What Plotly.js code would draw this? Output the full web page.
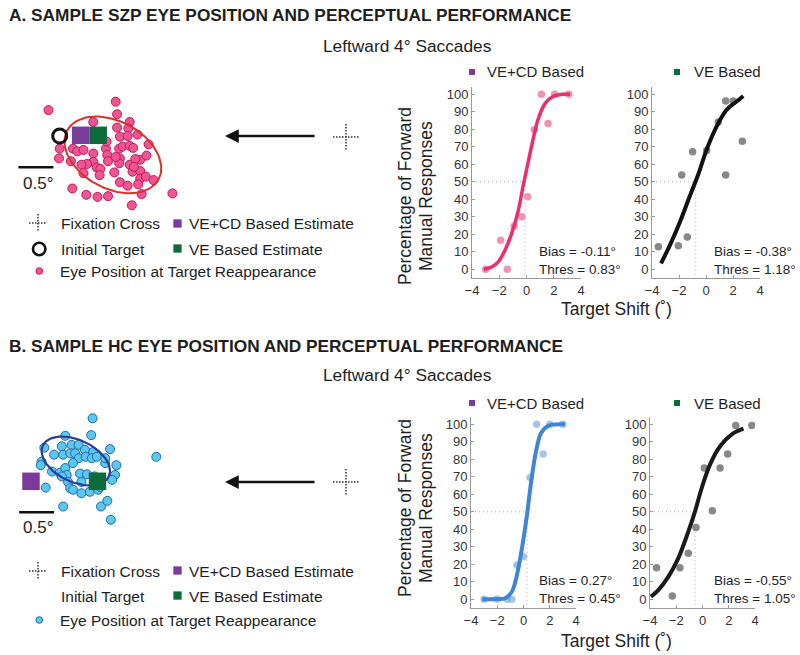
<!DOCTYPE html>
<html><head><meta charset="utf-8">
<script src="https://cdn.plot.ly/plotly-3.0.1.min.js"></script>
<style>html,body{margin:0;padding:0;background:#fff}#chart{width:800px;height:655px}</style>
</head><body><div id="chart"></div>
<script>
// ---------------- DATA ----------------
// Panel A (SZP) eye positions at target reappearance, degrees (fixation = 0,0)
const eyeA_x = [-4.25,-3.29,-3.27,-3.61,-3.09,-3.27,-3.11,-3.23,-3.12,-2.98,-4.09,-4.10,-3.93,-3.90,-3.84,-3.75,-3.61,-3.43,-3.41,-3.24,-3.19,-3.09,-3.04,-2.82,-3.23,-3.40,-3.61,-3.70,-3.78,-3.56,-3.24,-3.09,-2.94,-2.85,-3.01,-3.75,-3.51,-3.52,-3.31,-3.05,-2.94,-3.03,-2.94,-2.86,-2.75,-3.23,-3.12,-2.97,-3.91,-3.71,-3.55,-3.40,-2.92,-3.06,-2.48,-3.42,-3.29];
const eyeA_y = [0.37,0.49,0.31,0.20,0.20,0.12,0.11,-0.01,0.00,0.02,-0.18,-0.32,-0.36,-0.18,-0.22,-0.20,-0.25,-0.18,-0.27,-0.18,-0.15,-0.14,-0.17,-0.12,-0.32,-0.36,-0.37,-0.40,-0.41,-0.45,-0.39,-0.41,-0.34,-0.28,-0.33,-0.53,-0.47,-0.56,-0.52,-0.51,-0.50,-0.44,-0.61,-0.58,-0.63,-0.66,-0.71,-0.69,-0.75,-0.84,-0.87,-0.86,-0.83,-0.99,-0.82,-0.08,-0.30];
// Panel B (HC)
const eyeB_x = [-3.62,-3.64,-4.01,-4.31,-4.06,-3.92,-3.82,-3.73,-3.61,-3.37,-4.17,-4.04,-3.94,-3.87,-3.82,-3.72,-3.63,-3.56,-4.35,-4.36,-4.20,-4.09,-4.01,-3.99,-3.90,-3.44,-3.28,-3.30,-3.34,-3.80,-3.70,-3.59,-3.97,-3.94,-3.90,-3.78,-3.66,-3.54,-4.29,-4.04,-3.50,-3.41,-3.36,-2.71,-3.78,-3.51,-3.44,-4.06];
const eyeB_y = [0.91,0.67,0.66,0.49,0.51,0.53,0.53,0.46,0.43,0.47,0.39,0.39,0.41,0.41,0.34,0.36,0.34,0.36,0.29,0.24,0.15,0.13,0.20,0.10,0.27,0.27,0.24,0.10,0.03,0.12,0.11,0.08,0.00,-0.09,-0.11,-0.16,-0.14,-0.11,-0.08,-0.35,-0.35,-0.27,-0.54,0.36,0.00,-0.07,0.34,0.08];
// Initial target and estimates [x, y] in degrees
const targetA = [-4.09, 0.0];
const vecdA = [-3.79, 0.01];
const veA = [-3.54, 0.01];
const vecdB = [-4.50, 0.01];
const veB = [-3.55, 0.01];
// Eye-position ellipses: [cx, cy, semi-major, semi-minor, tilt deg]
const ellipseA = [-3.33, -0.27, 0.74, 0.48, -28];
const ellipseB = [-3.86, 0.30, 0.52, 0.30, -25];

// Psychometric data (target shift deg, % forward responses)
const shiftA1 = [-3.0,-1.9,-1.41,-0.9,-0.35,0.09,0.57,1.09,1.58,2.07,3.1];
const respA1  = [0,16.6,0,24.8,30,41.4,79.8,100,83.3,100,100];
const fitA1_x = [-3.13,-2.56,-2.07,-1.58,-1.09,-0.6,-0.24,0.13,0.5,0.87,1.36,1.97,2.59,3.2];
const fitA1_y = [0,1.3,4.2,10.9,20.4,33.7,48,61.5,74.8,86.2,94.7,98.9,100,100];

const shiftA2 = [-3.53,-2.05,-1.8,-1.39,-0.99,0.05,0.91,1.46,1.46,2.02,2.69];
const respA2  = [12.8,13.4,53.9,18.5,67.2,67.9,84.2,96.2,53.9,96.2,73.2];
const fitA2_x = [-3.33,-2.67,-1.93,-1.19,-0.57,0.05,0.79,1.53,2.27,2.76];
const fitA2_y = [3.4,13.8,27,42,54.3,68.5,81.7,91.2,95.9,99.1];

const shiftB1 = [-3.0,-2.0,-1.25,-0.9,-0.5,0.0,0.5,1.0,1.5,2.0,3.0];
const respB1  = [0,0,0,0,19.6,24.3,69.6,100,83,100,100];
const fitB1_x = [-3.15,-2.5,-2.0,-1.39,-0.88,-0.5,-0.12,0.26,0.58,0.94,1.34,1.89,3.16];
const fitB1_y = [0,0,0.1,0.6,4.4,13.9,29,48,67,84,95,99.2,100];

const shiftB2 = [-3.5,-2.3,-1.72,-1.08,-0.5,0.14,0.75,1.34,1.92,2.53,3.76];
const respB2  = [18,1.9,18,26.3,41,75,50.6,75,83,99.4,99.4];
const fitB2_x = [-3.93,-3.37,-2.61,-1.85,-1.08,-0.57,-0.06,0.57,1.34,2.23,3.12];
const fitB2_y = [1.5,5.2,12.8,23.4,38.7,50.2,63.6,77,87.5,94.3,97.5];

// Bias line positions as drawn, and printed stats
const biasLine = [-0.11, -0.76, 0.27, -0.57];
const biasText = ['-0.11','-0.38','0.27','-0.55'];
const thresText = ['0.83','1.18','0.45','1.05'];
const xTicks = [-4,-2,0,2,4];
const yTicks = [0,10,20,30,40,50,60,70,80,90,100];

// ---------------- LAYOUT HELPERS ----------------
const W = 800, H = 655;
const PX = p => p / W;
const PY = p => 1 - p / H;
const FONT = 'Liberation Sans, Arial, sans-serif';
const PXDEG = 70;
const PURPLE = '#7b3b9b', GREEN = '#0f6b3b';

function ellipsePts(e){
  const [cx,cy,a,b,deg] = e, t = deg*Math.PI/180, xs=[], ys=[];
  for(let i=0;i<=120;i++){const u=2*Math.PI*i/120, ex=a*Math.cos(u), ey=b*Math.sin(u);
    xs.push(cx+ex*Math.cos(t)-ey*Math.sin(t)); ys.push(cy+ex*Math.sin(t)+ey*Math.cos(t));}
  return [xs,ys];
}
function eyeAxes(fixPx, fixPy, top, bottom){
  return [
    {domain:[0, 400/W], range:[(0-fixPx)/PXDEG,(400-fixPx)/PXDEG], visible:false, fixedrange:true},
    {domain:[1-bottom/H, 1-top/H], range:[(fixPy-bottom)/PXDEG,(fixPy-top)/PXDEG], visible:false, fixedrange:true}
  ];
}
function psychX(l, r, anchor){
  return {domain:[l/W, r/W], range:[-4,4], anchor:anchor, showline:true, linecolor:'#9a9a9a', linewidth:1,
    ticks:'inside', ticklen:3, tickcolor:'#9a9a9a', tickvals:xTicks, showgrid:false, zeroline:false,
    tickfont:{size:13,color:'#333',family:FONT}, fixedrange:true};
}
function psychY(top, bottom, anchor){
  return {domain:[1-bottom/H, 1-top/H], range:[-5,104.2], anchor:anchor, showline:true, linecolor:'#9a9a9a', linewidth:1,
    ticks:'inside', ticklen:3, tickcolor:'#9a9a9a', tickvals:yTicks, showgrid:false, zeroline:false,
    tickfont:{size:13,color:'#333',family:FONT}, fixedrange:true};
}

const [exA, eyA] = eyeAxes(346, 136, 60, 215);
const [exB, eyB] = eyeAxes(346, 482, 400, 545);
const elA = ellipsePts(ellipseA), elB = ellipsePts(ellipseB);

const traces = [
  {x:eyeA_x, y:eyeA_y, xaxis:'x', yaxis:'y', mode:'markers', marker:{size:9,color:'#ef5591',line:{color:'#c2185b',width:1}}},
  {x:elA[0], y:elA[1], xaxis:'x', yaxis:'y', mode:'lines', line:{color:'#d8322c',width:2}},
  {x:[targetA[0]], y:[targetA[1]], xaxis:'x', yaxis:'y', mode:'markers', marker:{symbol:'circle-open',size:14,color:'#111',line:{width:3,color:'#111'}}},
  {x:[vecdA[0],veA[0]], y:[vecdA[1],veA[1]], xaxis:'x', yaxis:'y', mode:'markers', marker:{symbol:'square',size:17.5,color:[PURPLE,GREEN],line:{width:0}}},

  {x:eyeB_x, y:eyeB_y, xaxis:'x6', yaxis:'y6', mode:'markers', marker:{size:9,color:'#5cc7f0',line:{color:'#1f6aa8',width:1}}},
  {x:elB[0], y:elB[1], xaxis:'x6', yaxis:'y6', mode:'lines', line:{color:'#2d3b9a',width:2.2}},
  {x:[vecdB[0],veB[0]], y:[vecdB[1],veB[1]], xaxis:'x6', yaxis:'y6', mode:'markers', marker:{symbol:'square',size:17.5,color:[PURPLE,GREEN],line:{width:0}}},

  {x:shiftA1, y:respA1, xaxis:'x2', yaxis:'y2', mode:'markers', marker:{size:7.5,color:'rgba(240,100,150,0.7)'}},
  {x:fitA1_x, y:fitA1_y, xaxis:'x2', yaxis:'y2', mode:'lines', line:{color:'#ec2d6f',width:3.5,shape:'spline'}},
  {x:shiftA2, y:respA2, xaxis:'x3', yaxis:'y3', mode:'markers', marker:{size:7.5,color:'#888'}},
  {x:fitA2_x, y:fitA2_y, xaxis:'x3', yaxis:'y3', mode:'lines', line:{color:'#111',width:4,shape:'spline'}},
  {x:shiftB1, y:respB1, xaxis:'x4', yaxis:'y4', mode:'markers', marker:{size:7.5,color:'rgba(120,165,225,0.65)'}},
  {x:fitB1_x, y:fitB1_y, xaxis:'x4', yaxis:'y4', mode:'lines', line:{color:'#3e86d3',width:4,shape:'spline'}},
  {x:shiftB2, y:respB2, xaxis:'x5', yaxis:'y5', mode:'markers', marker:{size:7.5,color:'#888'}},
  {x:fitB2_x, y:fitB2_y, xaxis:'x5', yaxis:'y5', mode:'lines', line:{color:'#1a1a1a',width:4,shape:'spline'}}
];

const shapes = [];
const dotLine = {color:'#aaa', width:1, dash:'1px,3px'};
[['x2','y2'],['x3','y3'],['x4','y4'],['x5','y5']].forEach(([xa,ya],i)=>{
  shapes.push({type:'line', xref:xa, yref:ya, x0:-4, x1:biasLine[i], y0:50, y1:50, line:dotLine, layer:'below'});
  shapes.push({type:'line', xref:xa, yref:ya, x0:biasLine[i], x1:biasLine[i], y0:50, y1:-5, line:dotLine, layer:'below'});
});
// fixation crosses (dotted)
function cross(cx, cy, r){
  const ln = {color:'#333', width:1.5, dash:'1.5px,1.5px'};
  shapes.push({type:'line', xref:'paper', yref:'paper', x0:PX(cx-r), x1:PX(cx+r), y0:PY(cy), y1:PY(cy), line:ln});
  shapes.push({type:'line', xref:'paper', yref:'paper', x0:PX(cx), x1:PX(cx), y0:PY(cy-r), y1:PY(cy+r), line:ln});
}
cross(346, 137, 13); cross(346, 482, 13);
cross(38, 223, 9); cross(38, 571, 9);
// scale bars (0.5 deg)
shapes.push({type:'line', xref:'x', yref:'y', x0:-4.68, x1:-4.18, y0:-0.447, y1:-0.447, line:{color:'#111',width:2.5}});
shapes.push({type:'line', xref:'x6', yref:'y6', x0:-4.67, x1:-4.17, y0:-0.433, y1:-0.433, line:{color:'#111',width:2.5}});
// small squares
function sq(cx, cy, s, col){
  shapes.push({type:'rect', xref:'paper', yref:'paper', x0:PX(cx-s/2), x1:PX(cx+s/2), y0:PY(cy+s/2), y1:PY(cy-s/2), fillcolor:col, line:{width:0}});
}
sq(177.5, 223.5, 8.3, PURPLE); sq(177.5, 248.5, 8.3, GREEN);
sq(177.5, 570.5, 8.3, PURPLE); sq(177.5, 595.5, 8.3, GREEN);
sq(472, 72, 6, PURPLE); sq(677, 72, 6, GREEN);
sq(472, 403, 6, PURPLE); sq(677, 403, 6, GREEN);
// legend circle icons
shapes.push({type:'circle', xref:'paper', yref:'paper', x0:PX(33), x1:PX(45.4), y0:PY(255.2), y1:PY(242.8), line:{color:'#111',width:2.6}});
shapes.push({type:'circle', xref:'paper', yref:'paper', x0:PX(36), x1:PX(42.6), y0:PY(274.3), y1:PY(267.7), fillcolor:'#ef5591', line:{color:'#c2185b',width:1}});
shapes.push({type:'circle', xref:'paper', yref:'paper', x0:PX(36), x1:PX(42.6), y0:PY(623.3), y1:PY(616.7), fillcolor:'#5cc7f0', line:{color:'#1f6aa8',width:1}});

const ann = [];
function txt(text, x, y, size, opts){
  ann.push(Object.assign({text:text, xref:'paper', yref:'paper', x:PX(x), y:PY(y), xanchor:'left', yanchor:'middle',
    showarrow:false, font:{family:FONT, size:size, color:'#1e1e1e'}}, opts||{}));
}
txt('<b>A. SAMPLE SZP EYE POSITION AND PERCEPTUAL PERFORMANCE</b>', 7, 15, 17.3);
txt('<b>B. SAMPLE HC EYE POSITION AND PERCEPTUAL PERFORMANCE</b>', 7, 346, 17.3);
txt('Leftward 4° Saccades', 407, 46, 17.3, {xanchor:'center'});
txt('Leftward 4° Saccades', 407, 375, 17.3, {xanchor:'center'});
txt('VE+CD Based', 485, 72, 15); txt('VE Based', 692, 72, 15);
txt('VE+CD Based', 485, 403, 15); txt('VE Based', 692, 403, 15);
// legends
txt('Fixation Cross', 59, 223, 15.5); txt('VE+CD Based Estimate', 187, 223, 15.5);
txt('Initial Target', 59, 249, 15.5); txt('VE Based Estimate', 187, 249, 15.5);
txt('Eye Position at Target Reappearance', 58, 271, 15.5);
txt('Fixation Cross', 59, 571, 15.5); txt('VE+CD Based Estimate', 187, 571, 15.5);
txt('Initial Target', 59, 596, 15.5); txt('VE Based Estimate', 187, 596, 15.5);
txt('Eye Position at Target Reappearance', 58, 620, 15.5);
// scale labels
txt('0.5°', 38, 183, 17, {xanchor:'center'});
txt('0.5°', 38, 527, 17, {xanchor:'center'});
// axis titles
[196, 508].forEach(cy=>{
  txt('Percentage of Forward', 405, cy, 17.5, {xanchor:'center', textangle:-90});
  txt('Manual Responses', 426, cy, 17.5, {xanchor:'center', textangle:-90});
});
txt('Target Shift (˚)', 616, 309, 17.5, {xanchor:'center'});
txt('Target Shift (˚)', 616, 641, 17.5, {xanchor:'center'});
// bias / threshold
const statPos = [[537,251],[712,251],[537,580],[712,580]];
statPos.forEach(([x,y],i)=>{
  txt('Bias = '+biasText[i]+'°', x, y, 13.5);
  txt('Thres = '+thresText[i]+'°', x, y+18.5, 13.5);
});
// arrows
[136, 482].forEach(y=>{
  ann.push({xref:'paper', yref:'paper', x:PX(225), y:PY(y), ax:91, ay:0, text:'', showarrow:true,
    arrowhead:2, arrowsize:1.1, arrowwidth:2.5, arrowcolor:'#111'});
});

exA.anchor = 'y';
const layout = {
  width:W, height:H, margin:{l:0,r:0,t:0,b:0}, showlegend:false,
  paper_bgcolor:'#fff', plot_bgcolor:'rgba(0,0,0,0)', font:{family:FONT},
  xaxis:exA, yaxis:Object.assign(eyA,{anchor:'x'}),
  xaxis6:Object.assign(exB,{anchor:'y6'}), yaxis6:Object.assign(eyB,{anchor:'x6'}),
  xaxis2:psychX(472,581,'y2'), yaxis2:psychY(87,278,'x2'),
  xaxis3:psychX(652,760,'y3'), yaxis3:psychY(87,278,'x3'),
  xaxis4:psychX(471,576,'y4'), yaxis4:psychY(417,608,'x4'),
  xaxis5:psychX(650,755,'y5'), yaxis5:psychY(417,608,'x5'),
  shapes:shapes, annotations:ann
};
Plotly.newPlot('chart', traces, layout, {staticPlot:true, displayModeBar:false});
</script></body></html>
